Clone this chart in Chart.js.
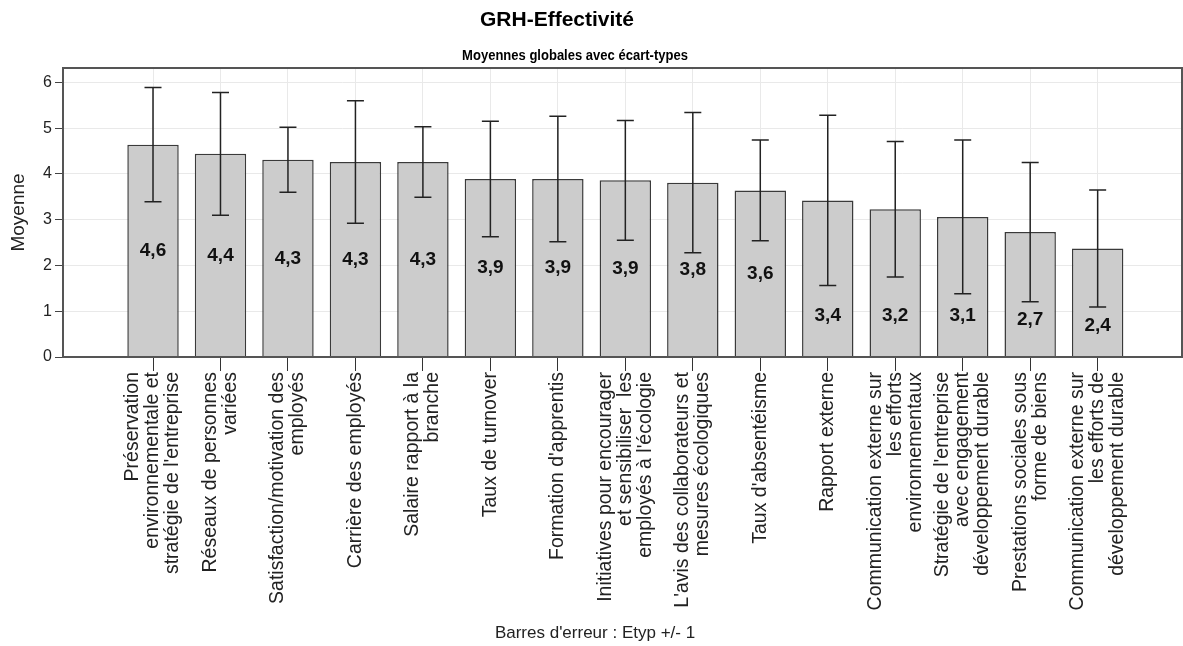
<!DOCTYPE html>
<html lang="fr">
<head>
<meta charset="utf-8">
<title>GRH-Effectivité</title>
<script src="https://cdn.jsdelivr.net/npm/chart.js@4.4.1/dist/chart.umd.min.js"></script>
<style>
    html, body { margin: 0; padding: 0; background: #fff; }
    #wrap { width: 1183px; height: 646px; }
</style>
</head>
<body>
<div id="wrap"><canvas id="chart" width="1183" height="646"></canvas></div>
<script>
/* global Chart */
const categories = [
    ['Préservation', 'environnementale et', "stratégie de l'entreprise"],
    ['Réseaux de personnes', 'variées'],
    ['Satisfaction/motivation des', 'employés'],
    ['Carrière des employés'],
    ['Salaire rapport à la', 'branche'],
    ['Taux de turnover'],
    ["Formation d'apprentis"],
    ['Initiatives pour encourager', 'et sensibiliser  les', "employés à l'écologie"],
    ["L'avis des collaborateurs et", 'mesures écologiques'],
    ["Taux d'absentéisme"],
    ['Rapport externe'],
    ['Communication externe sur', 'les efforts', 'environnementaux'],
    ["Stratégie de l'entreprise", 'avec engagement', 'développement durable'],
    ['Prestations sociales sous', 'forme de biens'],
    ['Communication externe sur', 'les efforts de', 'développement durable'],
];
const means = [4.64, 4.44, 4.31, 4.26, 4.26, 3.89, 3.89, 3.86, 3.81, 3.64, 3.42, 3.23, 3.06, 2.73, 2.37];
const stdDevs = [1.25, 1.34, 0.71, 1.34, 0.77, 1.26, 1.37, 1.31, 1.53, 1.10, 1.86, 1.48, 1.68, 1.52, 1.28];
const yTicks = [0, 1, 2, 3, 4, 5, 6];

const titleText = 'GRH-Effectivité';
const subtitleText = 'Moyennes globales avec écart-types';
const footerText = "Barres d'erreur : Etyp +/- 1";

(function () {
    const FONT = '"Liberation Sans", Arial, sans-serif';

    function fmt(v) {
        return v.toFixed(1).replace('.', ',');
    }

    // where the value label sits: middle of the bar unless the error bar gets in the way
    function labelValue(m, sd) {
        const lower = m - sd;
        const mid = m / 2;
        if (lower - mid < 0.3) return Math.min(0.9, lower - 0.4);
        return mid;
    }

    const framePlugin = {
        id: 'frame',
        afterDatasetsDraw(chart) {
            const { ctx, chartArea: a } = chart;
            ctx.save();
            ctx.strokeStyle = '#555';
            ctx.lineWidth = 2;
            ctx.strokeRect(a.left, a.top, a.right - a.left, a.bottom - a.top);
            ctx.restore();
        }
    };

    const errorBarPlugin = {
        id: 'errorBars',
        afterDatasetsDraw(chart) {
            const ctx = chart.ctx;
            const xs = chart.scales.x;
            const ys = chart.scales.y;
            ctx.save();
            ctx.strokeStyle = '#222';
            ctx.lineWidth = 1.5;
            means.forEach((m, i) => {
                const x = xs.getPixelForValue(i);
                const yHi = ys.getPixelForValue(m + stdDevs[i]);
                const yLo = ys.getPixelForValue(m - stdDevs[i]);
                ctx.beginPath();
                ctx.moveTo(x, yHi);
                ctx.lineTo(x, yLo);
                ctx.moveTo(x - 8.5, yHi);
                ctx.lineTo(x + 8.5, yHi);
                ctx.moveTo(x - 8.5, yLo);
                ctx.lineTo(x + 8.5, yLo);
                ctx.stroke();
            });

            ctx.fillStyle = '#111';
            ctx.font = 'bold 19px ' + FONT;
            ctx.textAlign = 'center';
            ctx.textBaseline = 'middle';
            means.forEach((m, i) => {
                const x = xs.getPixelForValue(i);
                const y = ys.getPixelForValue(labelValue(m, stdDevs[i]));
                ctx.fillText(fmt(m), x, y);
            });
            ctx.restore();
        }
    };

    const xLabelsPlugin = {
        id: 'xLabels',
        afterDraw(chart) {
            const ctx = chart.ctx;
            const xs = chart.scales.x;
            ctx.save();
            ctx.font = '19.5px ' + FONT;
            ctx.fillStyle = '#222';
            ctx.textAlign = 'right';
            ctx.textBaseline = 'middle';
            categories.forEach((lines, i) => {
                const px = xs.getPixelForValue(i);
                lines.forEach((line, k) => {
                    const cx = px + (k - (lines.length - 1) / 2) * 20;
                    ctx.save();
                    ctx.translate(cx, xs.top + 15);
                    ctx.rotate(-Math.PI / 2);
                    ctx.fillText(line, 0, 0);
                    ctx.restore();
                });
            });
            ctx.restore();
        }
    };

    const titlesPlugin = {
        id: 'titles',
        afterDraw(chart) {
            const ctx = chart.ctx;
            ctx.save();
            ctx.fillStyle = '#000';
            ctx.textAlign = 'center';
            ctx.textBaseline = 'alphabetic';
            ctx.font = 'bold 21px ' + FONT;
            ctx.fillText(titleText, 557, 26);
            // the subtitle is set in a condensed face: squeeze it horizontally
            ctx.save();
            ctx.translate(575, 60);
            ctx.scale(0.84, 1);
            ctx.font = 'bold 15.5px ' + FONT;
            ctx.fillText(subtitleText, 0, 0);
            ctx.restore();
            ctx.fillStyle = '#222';
            ctx.font = '17px ' + FONT;
            ctx.fillText(footerText, 595, 638);
            ctx.restore();
        }
    };

    Chart.defaults.font.family = FONT;
    Chart.defaults.color = '#222';

    new Chart(document.getElementById('chart'), {
        type: 'bar',
        data: {
            datasets: [{
                label: 'Moyenne',
                data: means.map((m, i) => ({ x: i, y: m })),
                backgroundColor: '#cccccc',
                borderColor: '#3a3a3a',
                borderWidth: 1.5,
                borderSkipped: 'bottom',
                categoryPercentage: 1,
                barPercentage: 0.762,
            }],
        },
        options: {
            responsive: false,
            animation: false,
            devicePixelRatio: 1,
            layout: { padding: { top: 68, right: 1, left: 0, bottom: 0 } },
            plugins: {
                legend: { display: false },
                tooltip: { enabled: false },
                title: { display: false },
            },
            scales: {
                x: {
                    type: 'linear',
                    min: -1.334,
                    max: 15.25,
                    offset: false,
                    afterBuildTicks: (s) => { s.ticks = categories.map((c, i) => ({ value: i })); },
                    afterFit: (s) => { s.height = 289; },
                    ticks: { display: false, autoSkip: false },
                    grid: { offset: false, color: '#e9e9e9', tickColor: '#333', tickLength: 14, lineWidth: 1 },
                    border: { display: false },
                },
                y: {
                    min: 0,
                    max: 6.315,
                    afterBuildTicks: (s) => { s.ticks = yTicks.map(v => ({ value: v })); },
                    afterFit: (s) => { s.width = 63; },
                    ticks: { font: { size: 16 }, color: '#222', padding: 3 },
                    grid: { color: '#e9e9e9', tickColor: '#444', tickLength: 8, lineWidth: 1 },
                    border: { display: false },
                    title: { display: true, text: 'Moyenne', font: { size: 19 }, color: '#222', padding: { top: 7, bottom: 0 } },
                },
            },
        },
        plugins: [framePlugin, errorBarPlugin, xLabelsPlugin, titlesPlugin],
    });
})();
</script>
</body>
</html>
